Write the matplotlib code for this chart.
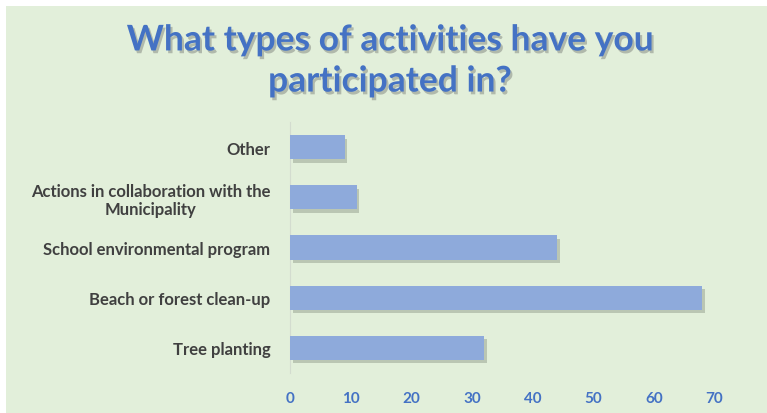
import matplotlib.pyplot as plt
import matplotlib.patheffects as pe
from matplotlib.patches import Rectangle

# Survey answers, bottom to top as drawn
activities = [
    "Tree planting",
    "Beach or forest clean-up",
    "School environmental program",
    "Actions in collaboration with the\nMunicipality",
    "Other",
]
counts = [32, 68, 44, 11, 9]
ticks = [0, 10, 20, 30, 40, 50, 60, 70]

bg = "#e2efda"
bar_color = "#8eaadb"
title_color = "#4472c4"

W, H = 767, 414
fig = plt.figure(figsize=(W / 100, H / 100), dpi=100, facecolor="white")

# green chart area with a thin white margin at top and left
fig.patches.append(Rectangle((6 / W, 0), 1, 1 - 7 / H, transform=fig.transFigure,
                             facecolor=bg, edgecolor="none", zorder=-5))

ax = fig.add_axes([290 / W, 1 - 374 / H, 473 / W, 251 / H])
ax.set_facecolor("none")
ax.set_zorder(2)

ypos = list(range(len(activities)))
bars = ax.barh(ypos, counts, height=0.48, color=bar_color, zorder=3)
for b in bars:
    b.set_path_effects([pe.SimplePatchShadow(offset=(2, -2.5), shadow_rgbFace="#7f8a7a", alpha=0.4),
                        pe.Normal()])

ax.set_xlim(0, 78)
ax.set_ylim(-0.5, 4.5)
ax.set_xticks(ticks)
ax.set_xticklabels([str(t) for t in ticks], color=title_color, fontweight="bold",
                   fontsize=11, family="Lato")
ax.set_yticks(ypos)
ax.set_yticklabels(activities, color="#404040", fontweight="bold", fontsize=12,
                   family="Lato", ha="right", multialignment="center")
ax.tick_params(axis="both", length=0)
ax.tick_params(axis="y", pad=14)
ax.tick_params(axis="x", pad=13)

for side in ["top", "right", "bottom"]:
    ax.spines[side].set_visible(False)
ax.spines["left"].set_color("#d3dccf")
ax.spines["left"].set_linewidth(0.8)

fig.text(390 / W, 1 - 62 / H, "What types of activities have you\nparticipated in?",
         ha="center", va="center", fontsize=25.5, fontweight="bold", color=title_color,
         family="Lato", linespacing=1.35,
         path_effects=[pe.withSimplePatchShadow(offset=(1.5, -2), shadow_rgbFace="#555555", alpha=0.35)])

fig.savefig("out.png", dpi=100, facecolor="white")
